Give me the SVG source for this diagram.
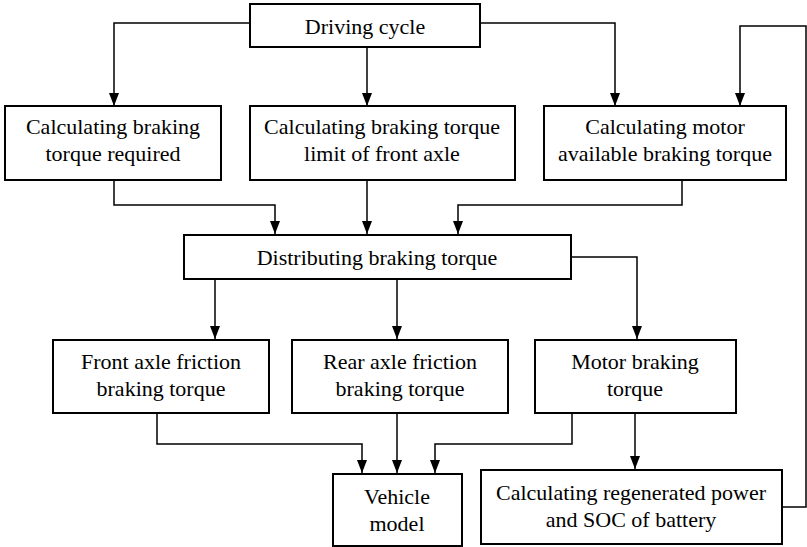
<svg xmlns="http://www.w3.org/2000/svg" width="807" height="547" viewBox="0 0 807 547">
<style>
.box{fill:#fff;stroke:#000;stroke-width:2}
.t{font-family:"Liberation Serif","Times New Roman",serif;font-size:22px;fill:#000;text-anchor:middle}
.c{fill:none;stroke:#000;stroke-width:1.5}
</style>
<defs>
<marker id="ah" markerUnits="userSpaceOnUse" markerWidth="10" markerHeight="14" refX="5" refY="13" orient="auto-start-reverse" viewBox="0 0 10 14">
<path d="M0,0 L10,0 L5,13 z" fill="#000" transform="rotate(0)"/>
</marker>
<marker id="a" markerUnits="userSpaceOnUse" markerWidth="14" markerHeight="10" refX="13" refY="5" orient="auto" viewBox="0 0 14 10">
<path d="M0,0 L13,5 L0,10 z" fill="#000"/>
</marker>
</defs>
<rect width="807" height="547" fill="#fff"/>
<g id="connectors">
<path class="c" marker-end="url(#a)" d="M250,23 H114 V106"/>
<path class="c" marker-end="url(#a)" d="M367,47 V106"/>
<path class="c" marker-end="url(#a)" d="M480,23 H615 V106"/>
<path class="c" marker-end="url(#a)" d="M782,507 H806 V26 H740 V106"/>
<path class="c" marker-end="url(#a)" d="M114,180 V205 H275 V234"/>
<path class="c" marker-end="url(#a)" d="M367,180 V234"/>
<path class="c" marker-end="url(#a)" d="M682,180 V205 H458 V234"/>
<path class="c" marker-end="url(#a)" d="M215,279 V339"/>
<path class="c" marker-end="url(#a)" d="M397,279 V339"/>
<path class="c" marker-end="url(#a)" d="M571,257 H637 V339"/>
<path class="c" marker-end="url(#a)" d="M157,413 V444 H362 V473"/>
<path class="c" marker-end="url(#a)" d="M397,413 V473"/>
<path class="c" marker-end="url(#a)" d="M572,413 V444 H435 V473"/>
<path class="c" marker-end="url(#a)" d="M635,413 V469"/>
</g>
<g id="driving-cycle">
<rect class="box" x="250" y="4" width="230" height="43"/>
<text class="t" x="365" y="34">Driving cycle</text>
</g>
<g id="braking-required">
<rect class="box" x="5" y="106" width="216" height="74"/>
<text class="t" x="113" y="134">Calculating braking</text>
<text class="t" x="113" y="161">torque required</text>
</g>
<g id="front-limit">
<rect class="box" x="250" y="106" width="265" height="74"/>
<text class="t" x="382" y="134">Calculating braking torque</text>
<text class="t" x="382" y="161">limit of front axle</text>
</g>
<g id="motor-available">
<rect class="box" x="544" y="106" width="242" height="74"/>
<text class="t" x="665" y="134">Calculating motor</text>
<text class="t" x="665" y="161">available braking torque</text>
</g>
<g id="distributing">
<rect class="box" x="184" y="235" width="387" height="44"/>
<text class="t" x="377" y="265">Distributing braking torque</text>
</g>
<g id="front-friction">
<rect class="box" x="53" y="340" width="216" height="73"/>
<text class="t" x="161" y="369">Front axle friction</text>
<text class="t" x="161" y="396">braking torque</text>
</g>
<g id="rear-friction">
<rect class="box" x="292" y="340" width="216" height="73"/>
<text class="t" x="400" y="369">Rear axle friction</text>
<text class="t" x="400" y="396">braking torque</text>
</g>
<g id="motor-braking">
<rect class="box" x="535" y="340" width="201" height="73"/>
<text class="t" x="635" y="369">Motor braking</text>
<text class="t" x="635" y="396">torque</text>
</g>
<g id="vehicle-model">
<rect class="box" x="333" y="474" width="129" height="72"/>
<text class="t" x="397" y="504">Vehicle</text>
<text class="t" x="397" y="531">model</text>
</g>
<g id="regen">
<rect class="box" x="481" y="470" width="301" height="74"/>
<text class="t" x="631" y="500">Calculating regenerated power</text>
<text class="t" x="631" y="527">and SOC of battery</text>
</g>
</svg>
